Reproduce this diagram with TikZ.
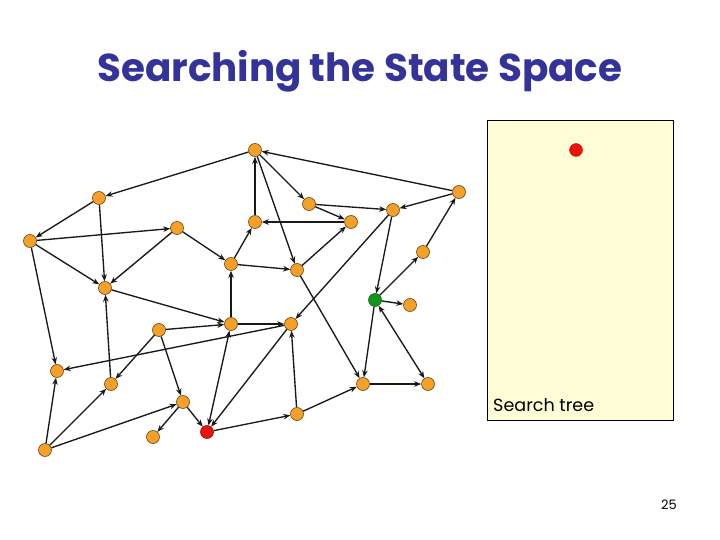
\documentclass[tikz,border=0pt]{standalone}
\usepackage{fontspec}
\setmainfont{Poppins}
\usetikzlibrary{arrows.meta}
\definecolor{titleblue}{RGB}{51,51,153}
\definecolor{nodeorange}{RGB}{245,160,40}
\definecolor{nodeedge}{RGB}{110,70,20}
\definecolor{nodered}{RGB}{235,20,10}
\definecolor{nodegreen}{RGB}{20,150,30}
\definecolor{paneyellow}{RGB}{255,253,213}
\tikzset{
  st/.style={circle, minimum size=13pt, inner sep=0pt, fill=nodeorange, draw=nodeedge, line width=0.6pt},
  stred/.style={st, fill=nodered, draw=nodered!70!black},
  stgreen/.style={st, fill=nodegreen, draw=nodegreen!70!black},
  ed/.style={line width=1.35pt, draw=black!90, -{Stealth[length=7pt,width=5.5pt]}},
  bi/.style={line width=1.35pt, draw=black!90, {Stealth[length=7pt,width=5.5pt]}-{Stealth[length=7pt,width=5.5pt]}},
}
\begin{document}
\begin{tikzpicture}[x=1pt,y=-1pt]
\useasboundingbox (0,0) rectangle (720,540);
% title
\node[anchor=base west, inner sep=0pt, text=titleblue] (title) at (97,82)
  {\resizebox{525pt}{!}{\bfseries Searching the State Space}};
% search tree pane
\node[draw=black, line width=0.8pt, fill=paneyellow, minimum width=186pt, minimum height=300pt, inner sep=0pt, anchor=north west] (pane) at (487,120) {};
\node[circle, minimum size=13pt, inner sep=0pt, fill=nodered, draw=nodered!85!black] (root) at (576,150) {};
\node[anchor=base west, inner sep=0pt] (stlabel) at (493,411) {\resizebox{101pt}{!}{Search tree}};
\node[anchor=base east, inner sep=0pt, font=\fontsize{13}{15}\selectfont] (pnum) at (677,509) {25};
% states
\node[st] (A) at (255,150) {};
\node[st] (B) at (99,198) {};
\node[st] (C) at (459,192) {};
\node[st] (D) at (309,204) {};
\node[st] (E) at (351,222) {};
\node[st] (F) at (393,210) {};
\node[st] (G) at (30,241) {};
\node[st] (H) at (177,228) {};
\node[st] (I) at (255,222) {};
\node[st] (J) at (231,264) {};
\node[st] (K) at (297,270) {};
\node[st] (L) at (423,252) {};
\node[st] (M) at (105,288) {};
\node[stgreen] (N) at (375,300) {};
\node[st] (O) at (410,305) {};
\node[st] (P) at (159,330) {};
\node[st] (Q) at (231,324) {};
\node[st] (R) at (291,324) {};
\node[st] (S) at (57,371) {};
\node[st] (T) at (111,384) {};
\node[st] (U) at (363,384) {};
\node[st] (V) at (428,384) {};
\node[st] (W) at (183,402) {};
\node[st] (X) at (153,437) {};
\node[stred] (Y) at (207,432) {};
\node[st] (Z) at (297,414) {};
\node[st] (AA) at (45,450) {};
% connectors
\draw[ed] (A) -- (B);
\draw[ed] (B) -- (G);
\draw[ed] (G) -- (H);
\draw[ed] (B) -- (M);
\draw[ed] (G) -- (M);
\draw[ed] (H) -- (M);
\draw[ed] (H) -- (J);
\draw[ed] (J) -- (I);
\draw[ed] (I) -- (A);
\draw[ed] (M) -- (Q);
\draw[ed] (Q) -- (J);
\draw[ed] (T) -- (M);
\draw[ed] (AA) -- (T);
\draw[ed] (G) -- (S);
\draw[ed] (J) -- (K);
\draw[ed] (P) -- (Q);
\draw[ed] (C) -- (A);
\draw[ed] (A) -- (D);
\draw[ed] (A) -- (K);
\draw[ed] (D) -- (E);
\draw[ed] (D) -- (F);
\draw[ed] (C) -- (F);
\draw[ed] (L) -- (C);
\draw[ed] (E) -- (I);
\draw[ed] (K) -- (E);
\draw[ed] (F) -- (R);
\draw[ed] (F) -- (N);
\draw[ed] (N) -- (L);
\draw[ed] (N) -- (O);
\draw[ed] (Q) -- (R);
\draw[ed] (K) -- (U);
\draw[ed] (N) -- (U);
\draw[bi] (N) -- (V);
\draw[ed] (R) -- (S);
\draw[ed] (P) -- (T);
\draw[ed] (P) -- (W);
\draw[ed] (AA) -- (S);
\draw[ed] (AA) -- (W);
\draw[ed] (W) -- (X);
\draw[ed] (W) -- (Y);
\draw[bi] (Q) -- (Y);
\draw[ed] (R) -- (Y);
\draw[ed] (Y) -- (Z);
\draw[ed] (Z) -- (R);
\draw[ed] (Z) -- (U);
\draw[ed] (U) -- (V);
\end{tikzpicture}
\end{document}
